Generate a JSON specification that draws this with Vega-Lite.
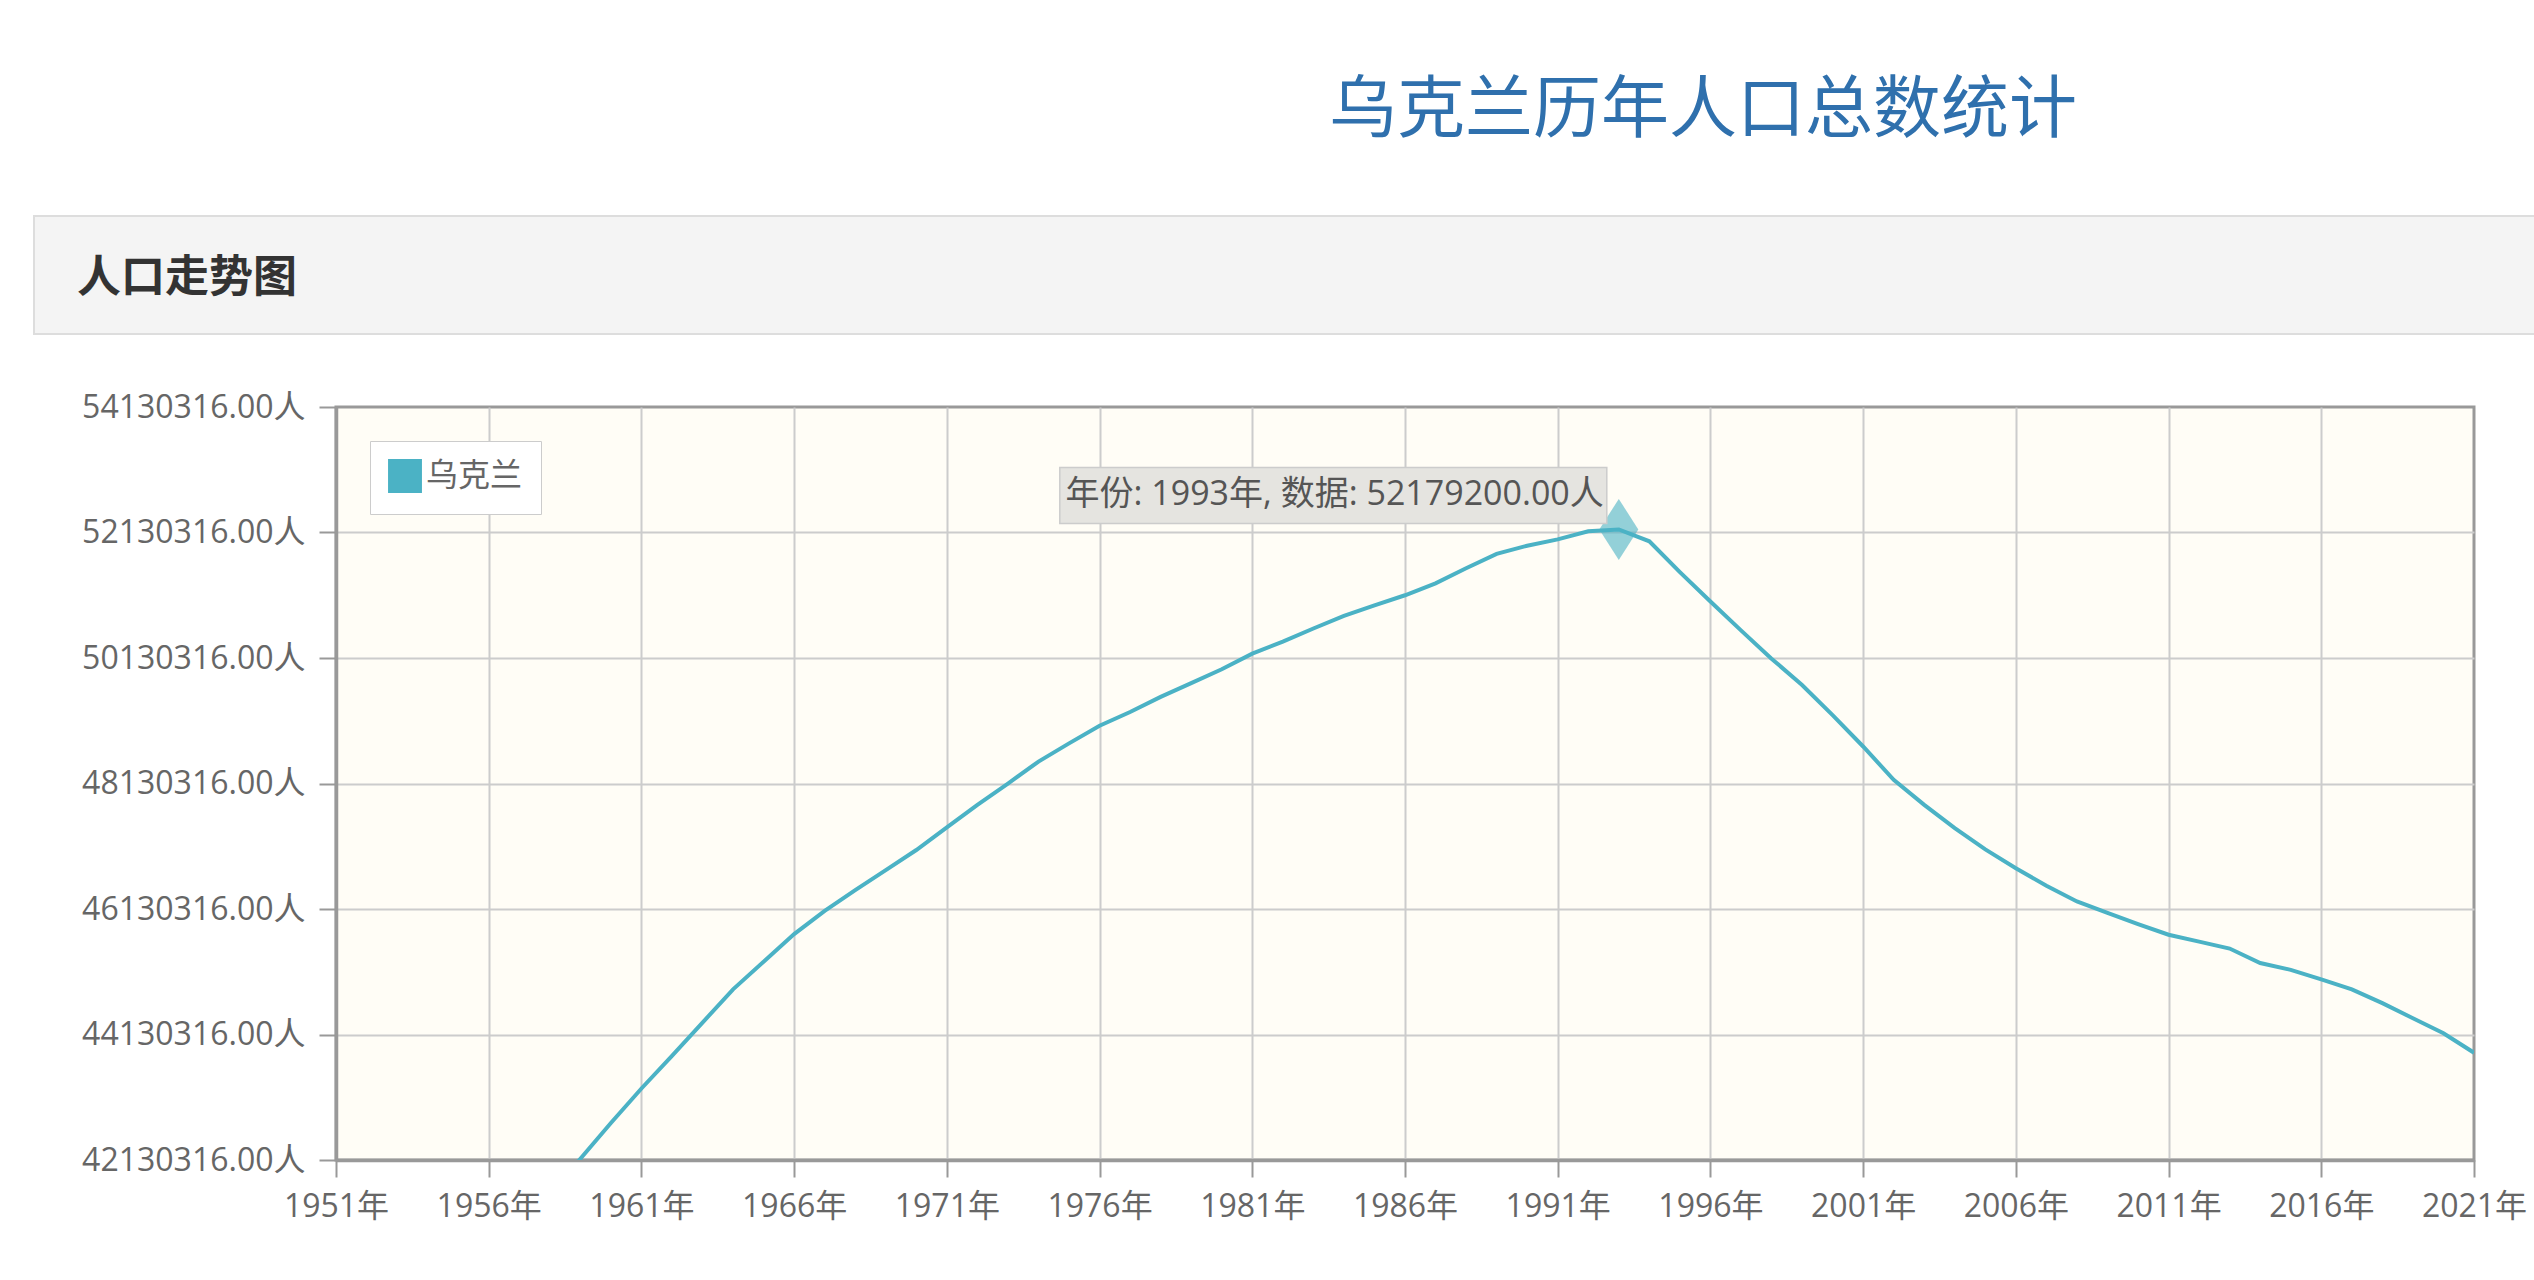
{
  "$schema": "https://vega.github.io/schema/vega-lite/v6.json",
  "padding": {"left": 33, "top": 78, "right": 0, "bottom": 0},
  "background": "#ffffff",
  "datasets": {
    "pop": [
      {"year": 1958, "value": 41600000, "country": "乌克兰"},
      {"year": 1959, "value": 42150000, "country": "乌克兰"},
      {"year": 1960, "value": 42720000, "country": "乌克兰"},
      {"year": 1961, "value": 43270000, "country": "乌克兰"},
      {"year": 1962, "value": 43790000, "country": "乌克兰"},
      {"year": 1963, "value": 44320000, "country": "乌克兰"},
      {"year": 1964, "value": 44850000, "country": "乌克兰"},
      {"year": 1965, "value": 45290000, "country": "乌克兰"},
      {"year": 1966, "value": 45730000, "country": "乌克兰"},
      {"year": 1967, "value": 46100000, "country": "乌克兰"},
      {"year": 1968, "value": 46430000, "country": "乌克兰"},
      {"year": 1969, "value": 46750000, "country": "乌克兰"},
      {"year": 1970, "value": 47070000, "country": "乌克兰"},
      {"year": 1971, "value": 47430000, "country": "乌克兰"},
      {"year": 1972, "value": 47790000, "country": "乌克兰"},
      {"year": 1973, "value": 48130000, "country": "乌克兰"},
      {"year": 1974, "value": 48480000, "country": "乌克兰"},
      {"year": 1975, "value": 48770000, "country": "乌克兰"},
      {"year": 1976, "value": 49050000, "country": "乌克兰"},
      {"year": 1977, "value": 49270000, "country": "乌克兰"},
      {"year": 1978, "value": 49510000, "country": "乌克兰"},
      {"year": 1979, "value": 49730000, "country": "乌克兰"},
      {"year": 1980, "value": 49950000, "country": "乌克兰"},
      {"year": 1981, "value": 50200000, "country": "乌克兰"},
      {"year": 1982, "value": 50390000, "country": "乌克兰"},
      {"year": 1983, "value": 50600000, "country": "乌克兰"},
      {"year": 1984, "value": 50800000, "country": "乌克兰"},
      {"year": 1985, "value": 50970000, "country": "乌克兰"},
      {"year": 1986, "value": 51130000, "country": "乌克兰"},
      {"year": 1987, "value": 51320000, "country": "乌克兰"},
      {"year": 1988, "value": 51560000, "country": "乌克兰"},
      {"year": 1989, "value": 51790000, "country": "乌克兰"},
      {"year": 1990, "value": 51920000, "country": "乌克兰"},
      {"year": 1991, "value": 52020000, "country": "乌克兰"},
      {"year": 1992, "value": 52150000, "country": "乌克兰"},
      {"year": 1993, "value": 52179200, "country": "乌克兰"},
      {"year": 1994, "value": 51990000, "country": "乌克兰"},
      {"year": 1995, "value": 51500000, "country": "乌克兰"},
      {"year": 1996, "value": 51030000, "country": "乌克兰"},
      {"year": 1997, "value": 50570000, "country": "乌克兰"},
      {"year": 1998, "value": 50120000, "country": "乌克兰"},
      {"year": 1999, "value": 49700000, "country": "乌克兰"},
      {"year": 2000, "value": 49220000, "country": "乌克兰"},
      {"year": 2001, "value": 48720000, "country": "乌克兰"},
      {"year": 2002, "value": 48190000, "country": "乌克兰"},
      {"year": 2003, "value": 47790000, "country": "乌克兰"},
      {"year": 2004, "value": 47420000, "country": "乌克兰"},
      {"year": 2005, "value": 47080000, "country": "乌克兰"},
      {"year": 2006, "value": 46780000, "country": "乌克兰"},
      {"year": 2007, "value": 46500000, "country": "乌克兰"},
      {"year": 2008, "value": 46250000, "country": "乌克兰"},
      {"year": 2009, "value": 46070000, "country": "乌克兰"},
      {"year": 2010, "value": 45890000, "country": "乌克兰"},
      {"year": 2011, "value": 45720000, "country": "乌克兰"},
      {"year": 2012, "value": 45610000, "country": "乌克兰"},
      {"year": 2013, "value": 45500000, "country": "乌克兰"},
      {"year": 2014, "value": 45270000, "country": "乌克兰"},
      {"year": 2015, "value": 45160000, "country": "乌克兰"},
      {"year": 2016, "value": 45010000, "country": "乌克兰"},
      {"year": 2017, "value": 44850000, "country": "乌克兰"},
      {"year": 2018, "value": 44630000, "country": "乌克兰"},
      {"year": 2019, "value": 44390000, "country": "乌克兰"},
      {"year": 2020, "value": 44150000, "country": "乌克兰"},
      {"year": 2021, "value": 43840000, "country": "乌克兰"}
    ],
    "highlight": [
      {"year": 1993, "value": 52179200, "tip": "年份: 1993年, 数据: 52179200.00人"}
    ]
  },
  "title": {
    "text": "乌克兰历年人口总数统计",
    "anchor": "start",
    "frame": "group",
    "dx": 1295,
    "fontSize": 68,
    "font": "Noto Sans CJK SC",
    "fontWeight": "normal",
    "color": "#2f70ad",
    "offset": 69
  },
  "columns": 1,
  "spacing": 54,
  "resolve": {"legend": {"color": "independent"}},
  "concat": [
    {
      "width": 2501,
      "height": 118,
      "view": {"fill": "#f4f4f4", "stroke": "#dddddd", "strokeWidth": 2},
      "data": {"values": [{"k": 1}]},
      "mark": {"type": "rect", "opacity": 0},
      "title": {
        "text": "人口走势图",
        "anchor": "start",
        "frame": "group",
        "orient": "top",
        "offset": -85,
        "dx": 43,
        "fontSize": 44,
        "font": "Noto Sans CJK SC",
        "fontWeight": "bold",
        "color": "#333333"
      }
    },
    {
      "resolve": {"legend": {"color": "independent"}},
      "spacing": 0,
      "hconcat": [
        {
          "width": 1,
          "height": 753,
          "view": {"fill": null, "stroke": null},
          "data": {"values": [{"k": 1}]},
          "mark": {"type": "rect", "opacity": 0}
        },
        {
          "width": 2138,
          "height": 753,
          "view": {"fill": "#fffdf6", "stroke": "#999999", "strokeWidth": 3},
          "encoding": {
            "x": {
              "field": "year",
              "type": "quantitative",
              "scale": {"domain": [1951, 2021], "nice": false, "zero": false},
              "axis": {
                "title": null,
                "values": [1951, 1956, 1961, 1966, 1971, 1976, 1981, 1986, 1991, 1996, 2001, 2006, 2011, 2016, 2021],
                "labelExpr": "datum.value + '年'",
                "labelFlush": false,
                "labelFont": "Open Sans, Noto Sans CJK SC",
                "labelFontSize": 32,
                "labelColor": "#666666",
                "labelPadding": 14,
                "tickSize": 17,
                "tickColor": "#999999",
                "tickWidth": 2,
                "domain": true,
                "domainColor": "#999999",
                "domainWidth": 3.5,
                "grid": true,
                "gridColor": "#cccccc",
                "gridWidth": 2,
                "gridOpacity": {"condition": {"test": "datum.value == 1951 || datum.value == 2021", "value": 0}, "value": 1}
              }
            },
            "y": {
              "field": "value",
              "type": "quantitative",
              "scale": {"domain": [42130316, 54130316], "nice": false, "zero": false},
              "axis": {
                "title": null,
                "minExtent": 299,
                "values": [42130316, 44130316, 46130316, 48130316, 50130316, 52130316, 54130316],
                "labelExpr": "format(datum.value, '.2f') + '人'",
                "labelLimit": 0,
                "labelFont": "Open Sans, Noto Sans CJK SC",
                "labelFontSize": 32,
                "labelColor": "#666666",
                "labelPadding": 14,
                "tickSize": 17,
                "tickColor": "#999999",
                "tickWidth": 2,
                "domain": true,
                "domainColor": "#999999",
                "domainWidth": 3.5,
                "grid": true,
                "gridColor": "#cccccc",
                "gridWidth": 2,
                "gridOpacity": {"condition": {"test": "datum.value == 42130316 || datum.value == 54130316", "value": 0}, "value": 1}
              }
            }
          },
          "layer": [
            {
              "data": {"name": "pop"},
              "mark": {"type": "line", "strokeWidth": 4, "clip": true},
              "encoding": {
                "color": {
                  "field": "country",
                  "type": "nominal",
                  "scale": {"range": ["#4bb2c5"]},
                  "legend": {
                    "title": null,
                    "orient": "top-left",
                    "offset": 34,
                    "padding": 18,
                    "fillColor": "#ffffff",
                    "strokeColor": "#cccccc",
                    "symbolType": "square",
                    "symbolSize": 1050,
                    "symbolFillColor": "#4bb2c5",
                    "symbolStrokeColor": "#dddddd",
                    "symbolStrokeWidth": 1.5,
                    "labelFont": "Noto Sans CJK SC",
                    "labelFontSize": 32,
                    "labelColor": "#666666",
                    "labelOffset": 4,
                    "labelExpr": "datum.label + '\u00a0\u00a0\u00a0\u00a0\u00a0\u00a0\u00a0\u00a0\u00a0\u00a0\u00a0\u00a0'"
                  }
                }
              }
            },
            {
              "data": {"name": "highlight"},
              "mark": {"type": "point", "shape": "M0,-1L0.64,0L0,1L-0.64,0Z", "size": 3721, "filled": true, "color": "#4bb2c5", "opacity": 0.6}
            },
            {
              "data": {"name": "highlight"},
              "mark": {"type": "rect", "fill": "#e5e4e0", "stroke": "#cccccc", "strokeWidth": 1.5, "xOffset": -559, "x2Offset": -12, "yOffset": -62, "y2Offset": -6},
              "encoding": {"x2": {"field": "year"}, "y2": {"field": "value"}}
            },
            {
              "data": {"name": "highlight"},
              "mark": {"type": "text", "align": "right", "baseline": "middle", "dx": -15, "dy": -34, "font": "Open Sans, Noto Sans CJK SC", "fontSize": 34, "color": "#555555"},
              "encoding": {"text": {"field": "tip"}}
            }
          ]
        }
      ]
    }
  ]
}
